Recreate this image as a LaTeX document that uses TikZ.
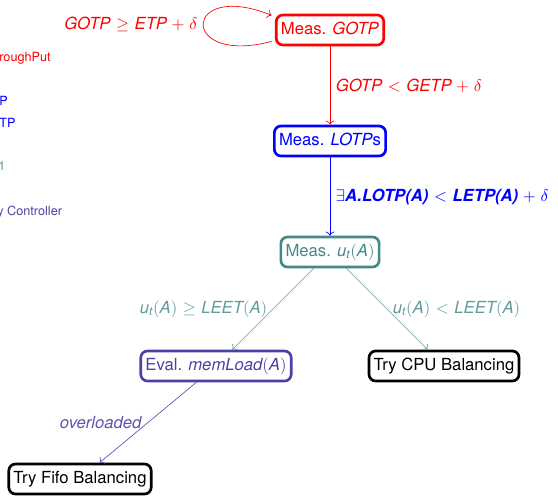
\documentclass[tikz,border=0pt]{standalone}
\usepackage{fontspec}
\setmainfont{TeX Gyre Heros}
\usepackage{amsmath}
\usepackage{amssymb}
\usetikzlibrary{
    arrows.meta,
    positioning
}
\definecolor{utilteal}{RGB}{70,135,135}
\definecolor{memviolet}{RGB}{75,65,165}
\tikzstyle{state} = [
    rectangle,
    rounded corners=4pt,
    line width=1.6pt,
    inner xsep=2.8pt,
    inner ysep=4pt,
    text height=7.5pt,
    text depth=2.5pt
]
\tikzstyle{trans} = [
    ->,
    thin
]
\tikzstyle{legend} = [
    anchor=west,
    inner sep=0pt,
    font=\fontsize{7.6}{9}\selectfont
]
\newcommand{\bi}[1]{\textbf{\textit{#1}}}
% a little more room around relations and operators
\thickmuskip=6mu plus 2mu
\medmuskip=5mu plus 2mu

\begin{document}
\begin{tikzpicture}[x=0.6pt, y=-0.6pt]
    \path[use as bounding box, clip] (0,0) rectangle (558,496);

    % Legend (left edge)
    \node[legend, red] (lgotp) at (-1,58) {roughPut};
    \node[legend, red] (lgetp) at (-4,77) {t};
    \node[legend, blue] (llotp) at (-1,101) {P};
    \node[legend, blue] (lletp) at (-1,123) {TP};
    \node[legend, utilteal!85] (lleet) at (-2,166) {1};
    \node[legend, memviolet] (lctrl) at (-3,212) {y Controller};

    % Measurement chain
    \node[state, draw=red, text=red] (gotp) at (330,30) {Meas. \textit{GOTP}};
    \node[state, draw=blue, text=blue] (lotp) at (330,141) {Meas. \textit{LOTP}s};
    \node[state, draw=utilteal, text=utilteal] (util) at (330,252) {Meas. $\textit{u}_{\textit{t}}(\textit{A})$};

    % Balancing decisions
    \node[state, draw=memviolet, text=memviolet] (mem) at (216,366) {Eval. $\textit{memLoad}(\textit{A})$};
    \node[state, draw=black] (cpu) at (444,366) {Try CPU Balancing};
    \node[state, draw=black] (fifo) at (80,479) {Try Fifo Balancing};

    % Arrows
    \draw[trans, red] ([xshift=-2pt, yshift=3pt]gotp.south west)
        to[out=195, in=158, looseness=9.5]
        node[left, text=red] {$\textit{GOTP} \geq \textit{ETP} + \delta$}
        ([xshift=-2pt, yshift=-1pt]gotp.north west);
    \draw[trans, red] (gotp) -- node[right] {$\textit{GOTP} < \textit{GETP} + \delta$} (lotp);
    \draw[trans, blue] (lotp) -- node[right] {$\exists\bi{A.LOTP(A)} < \bi{LETP(A)} + \delta$} (util);
    \draw[trans, utilteal!85] (util) -- node[left] {$\textit{u}_{\textit{t}}(\textit{A}) \geq \textit{LEET}(\textit{A})$} (mem);
    \draw[trans, utilteal!85] (util) -- node[right] {$\textit{u}_{\textit{t}}(\textit{A}) < \textit{LEET}(\textit{A})$} (cpu);
    \draw[trans, memviolet!90] (mem) -- node[left] {\textit{overloaded}} (fifo);
\end{tikzpicture}
\end{document}
